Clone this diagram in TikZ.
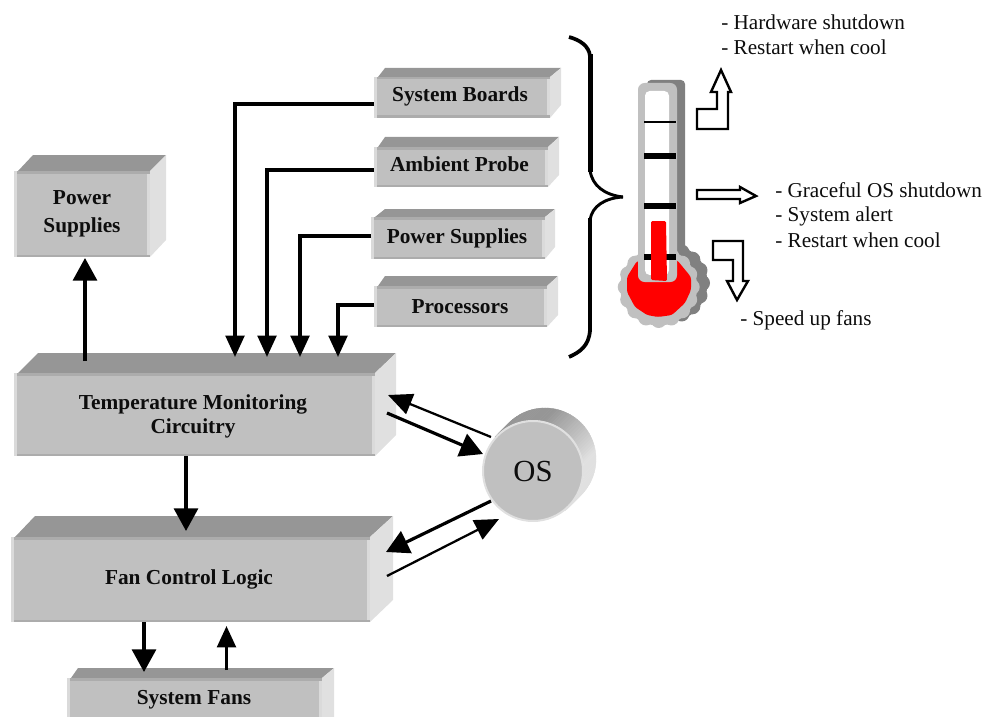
\documentclass[tikz,border=0pt]{standalone}
\usepackage{fontspec}
\setmainfont{Liberation Serif}
\usetikzlibrary{arrows.meta}
\definecolor{facegray}{HTML}{C0C0C0}
\definecolor{topgray}{HTML}{969696}
\definecolor{sidegray}{HTML}{E0E0E0}
\definecolor{edgedark}{HTML}{ACACAC}
\definecolor{edgelight}{HTML}{DADADA}
\definecolor{shadowgray}{HTML}{808080}
\definecolor{merc}{HTML}{FF0000}
\tikzset{
  lbl/.style={font=\fontsize{16}{19}\selectfont\bfseries,inner sep=0pt,align=center,text=black!95},
  note/.style={font=\fontsize{15.9}{18}\selectfont,inner sep=0pt,anchor=base west,text=black!95},
  conn/.style={line width=2.4pt,-{Triangle[width=14pt,length=16pt]}},
  connbig/.style={line width=2.4pt,-{Triangle[width=18pt,length=17pt]}},
  connthin/.style={line width=1.7pt,-{Triangle[width=16pt,length=18pt]}},
  hollow/.style={draw=black,fill=white,line width=1.8pt,miter limit=4},
  face/.style={fill=facegray,inner sep=0pt,outer sep=0pt},
  tick/.style={draw=black,line width=4.5pt},
}
\newcommand{\bbox}[9]{%
  \fill[topgray] (#2+4,#3) -- (#6,#7) -- (#8,#7) -- (#4,#3) -- cycle;
  \fill[sidegray] (#4,#3) -- (#8,#7) -- (#8,#9) -- (#4,#5) -- cycle;
  \node[face,minimum width={(#4-#2)*.75pt},minimum height={(#5-#3)*.75pt}] (#1) at ({(#2+#4)/2},{(#3+#5)/2}) {};
  \fill[edgelight] (#2,#3) rectangle (#2+3,#5);
  \fill[edgelight] (#4-3,#3) rectangle (#4,#5);
  \fill[edgedark] (#2+3,#3) rectangle (#4,#3+2.5);
  \fill[edgedark] (#2+3,#5-2.5) rectangle (#4,#5);
}
\begin{document}
\begin{tikzpicture}[x=.75pt,y=-.75pt]
\useasboundingbox (0,0) rectangle (993,717);
\clip (0,0) rectangle (993,717);

% boxes
\bbox{leftps}{14}{171}{150}{257}{33}{155}{166}{240}
\node[lbl] (leftps-t) at (82,213.5) {Power\\[2pt]Supplies};
\bbox{boards}{374}{77}{550}{118}{385}{68}{561}{105}
\node[lbl] (boards-t) at (460,96) {System Boards};
\bbox{probe}{374}{147}{548}{187}{385}{137}{559}{175}
\node[lbl] (probe-t) at (459.5,164) {Ambient Probe};
\bbox{ps}{371}{217}{545}{259}{385}{209}{555}{247}
\node[lbl] (ps-t) at (457,238) {Power Supplies};
\bbox{proc}{374}{286}{547}{327}{385}{276}{558}{315}
\node[lbl] (proc-t) at (460,307) {Processors};
\bbox{mon}{14}{373}{375}{456}{38}{353}{396}{435}
\node[lbl] (mon-t) at (193,416) {Temperature Monitoring\\[-1pt]Circuitry};
\bbox{fan}{11}{537}{370}{622}{35}{516}{393}{600}
\node[lbl] (fan-t) at (189,579) {Fan Control Logic};
\bbox{fans}{67}{678}{322}{735}{78}{668}{334}{722}
\node[lbl] (fans-t) at (194,700) {System Fans};

% OS drum: extruded side, dark on top and light on the right
\foreach \a in {-138,-135,...,48}{
  \pgfmathsetmacro{\t}{min(100,max(0,(\a+80)/70*100))}
  \pgfmathsetmacro{\ca}{51*cos(\a)}
  \pgfmathsetmacro{\sa}{51*sin(\a)}
  \pgfmathsetmacro{\cb}{51*cos(\a+3)}
  \pgfmathsetmacro{\sb}{51*sin(\a+3)}
  \fill[sidegray!\t!topgray,draw=sidegray!\t!topgray,line width=.3pt]
    (533+\ca,471+\sa) -- (533+\cb,471+\sb) -- (545+\cb,459+\sb) -- (545+\ca,459+\sa) -- cycle;
}
\node[circle,fill=facegray,draw=sidegray,line width=1.5pt,minimum size=75pt,inner sep=0pt,font=\fontsize{23}{26}\selectfont,text=black!95] (os) at (533,471) {OS};

% free ends
\coordinate (a1) at (235,357);
\coordinate (a2) at (267,357);
\coordinate (a3) at (300,357);
\coordinate (a4) at (338,357);
\coordinate (up) at (85,258);
\coordinate (upfoot) at (85,361);
\coordinate (mf) at (186,531);
\coordinate (ff) at (144,672);
\coordinate (fb) at (226.5,626);
\coordinate (fbfoot) at (226.5,670);
\coordinate (m1) at (388,395);
\coordinate (m1s) at (491,437);
\coordinate (m2) at (483,454);
\coordinate (m2s) at (387,413);
\coordinate (f1) at (386,552);
\coordinate (f1s) at (491,501);
\coordinate (f2) at (499,519);
\coordinate (f2s) at (387,576);

% connectors
\draw[conn] (boards.west |- 374,104) -| (a1);
\draw[conn] (probe.west |- 374,170) -| (a2);
\draw[conn] (ps.west |- 372,236) -| (a3);
\draw[conn] (proc.west |- 374,305) -| (a4);
\draw[connbig] (upfoot) -- (up);
\draw[connbig] (mon.south -| mf) -- (mf);
\draw[connbig] (fan.south -| ff) -- (ff);
\draw[conn] (fbfoot) -- (fb);
\draw[connthin] (m1s) -- (m1);
\draw[connbig] (m2s) -- (m2);
\draw[connbig] (f1s) -- (f1);
\draw[connthin] (f2s) -- (f2);

% brace
\draw[line width=2.8pt,line join=round] (569,37) .. controls (580,40) and (589,46) .. (590,56);
\draw[line width=3.4pt] (590.5,54) -- (590.5,172);
\draw[line width=2.2pt] (590,170) .. controls (592,186) and (605,195) .. (623,197);
\draw[line width=2.2pt] (623,197) .. controls (605,198) and (592,206) .. (590,220);
\draw[line width=2.4pt,line join=round] (590,218) -- (590,332);
\draw[line width=2.8pt] (590,330) .. controls (589,346) and (580,352) .. (569,357);

% thermometer
\fill[shadowgray,rounded corners=3pt] (647,80) rectangle (685,255);
\foreach \a in {0,22.5,...,337.5}{\fill[shadowgray] (669,283)++(\a:33) circle (8);}
\fill[shadowgray] (669,283) circle (38.5);
\foreach \a in {0,22.5,...,337.5}{\fill[facegray] (658.7,287)++(\a:33) circle (8);}
\fill[facegray] (658.7,287) circle (38.5);
\fill[merc,rounded corners=2pt] (637,261) -- (627,277) -- (627,292) -- (635,307) -- (647,315) -- (658,317) -- (672,315) -- (685,303) -- (691,290) -- (691,277) -- (677,260) -- cycle;
\fill[facegray,rounded corners=5pt] (638,83) rectangle (677,282);
\fill[white,rounded corners=3.5pt] (645,91) rectangle (669,275);
\draw[black,line width=2.2pt] (644,122) -- (676,122);
\draw[tick] (644,156) -- (676,156);
\draw[tick] (644,206) -- (676,206);
\draw[tick] (644,257) -- (676,257);
\fill[merc,rounded corners=1pt] (651,221) -- (666,221) -- (667,281) -- (651,280) -- cycle;

% hollow arrows
\draw[hollow] (697,129) -- (728,129) -- (728,92) -- (731,92) -- (721,70) -- (711,92) -- (717,92) -- (717,109) -- (697,109) -- cycle;
\draw[hollow] (697,190) -- (740,190) -- (740,187) -- (756,196) -- (740,203) -- (740,199) -- (697,199) -- cycle;
\draw[hollow] (713,241) -- (743,241) -- (743,281) -- (748,281) -- (737,300) -- (727,281) -- (733,281) -- (733,260) -- (713,260) -- cycle;

% notes
\node[note] (n1) at (721,30) {- Hardware shutdown};
\node[note] (n2) at (721,55) {- Restart when cool};
\node[note] (n3) at (775,197) {- Graceful OS shutdown};
\node[note] (n4) at (775,221) {- System alert};
\node[note] (n5) at (775,247) {- Restart when cool};
\node[note] (n6) at (740,325) {- Speed up fans};
\end{tikzpicture}
\end{document}
